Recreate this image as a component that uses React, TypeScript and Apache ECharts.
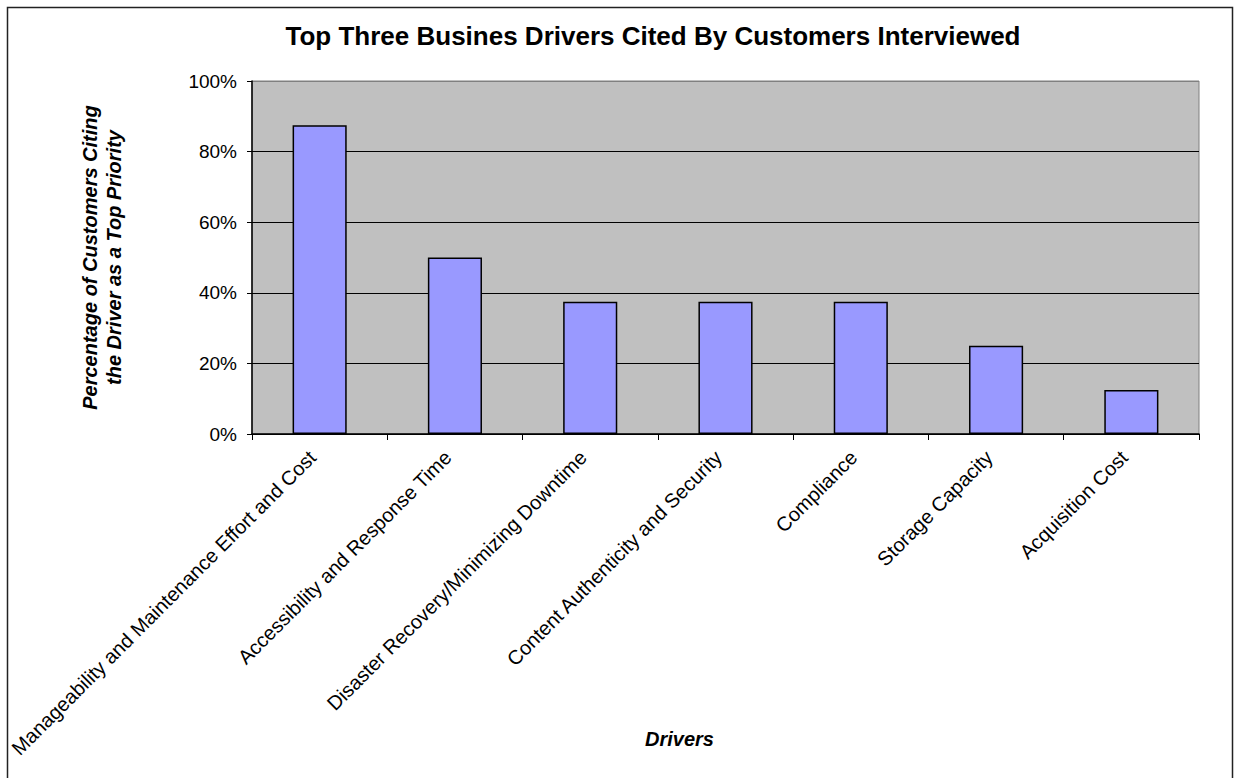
import React, { useEffect, useRef } from "react";
import * as echarts from "echarts";

const categories = [
  "Manageability and Maintenance Effort and Cost",
  "Accessibility and Response Time",
  "Disaster Recovery/Minimizing Downtime",
  "Content Authenticity and Security",
  "Compliance",
  "Storage Capacity",
  "Acquisition Cost",
];
const values = [0.875, 0.5, 0.375, 0.375, 0.375, 0.25, 0.125];
const yTicks = [0, 0.2, 0.4, 0.6, 0.8, 1.0];

const FONT = "'Liberation Sans', Arial, Helvetica, sans-serif";

export default function App() {
  const ref = useRef<HTMLDivElement>(null);
  useEffect(() => {
    if (!ref.current) return;
    const chart = echarts.init(ref.current, null, { renderer: "svg" });
    chart.setOption({
      animation: false,
      backgroundColor: "#ffffff",
      title: {
        text: "Top Three Busines Drivers Cited By Customers Interviewed",
        left: 648,
        textAlign: "center",
        top: 18,
        textStyle: { fontFamily: FONT, fontSize: 26, fontWeight: "bold", color: "#000" },
      },
      graphic: [
        {
          type: "rect",
          shape: { x: 7.5, y: 7.5, width: 1225, height: 800 },
          style: { fill: "none", stroke: "#222", lineWidth: 1.5 },
          silent: true,
        },
      ],
      grid: {
        left: 252,
        right: 37,
        top: 81,
        bottom: 344,
        show: true,
        backgroundColor: "#C0C0C0",
        borderColor: "#808080",
        borderWidth: 1,
      },
      xAxis: {
        type: "category",
        data: categories,
        name: "Drivers",
        nameLocation: "middle",
        nameGap: 295,
        nameMoveOverlap: false,
        nameTextStyle: {
          fontFamily: FONT,
          fontSize: 20,
          fontWeight: "bold",
          fontStyle: "italic",
          color: "#000",
          padding: [0, 92, 0, 0],
        },
        axisLine: { lineStyle: { color: "#000", width: 1.5 } },
        axisTick: { show: true, length: 6, alignWithLabel: false, lineStyle: { color: "#000" } },
        axisLabel: {
          interval: 0,
          rotate: 45,
          margin: 13,
          padding: [0, 10, 0, 0],
          fontFamily: FONT,
          fontSize: 20,
          color: "#000",
        },
      },
      yAxis: {
        type: "value",
        min: 0,
        max: 1,
        interval: 0.2,
        name: "Percentage of Customers Citing\nthe Driver as a Top Priority",
        nameLocation: "middle",
        nameGap: 126,
        nameMoveOverlap: false,
        nameTextStyle: {
          fontFamily: FONT,
          fontSize: 20,
          fontWeight: "bold",
          fontStyle: "italic",
          color: "#000",
          lineHeight: 24,
        },
        axisLine: { show: true, lineStyle: { color: "#000", width: 1.5 } },
        axisTick: { show: true, length: 5, lineStyle: { color: "#000" } },
        axisLabel: {
          margin: 15,
          fontFamily: FONT,
          fontSize: 19,
          color: "#000",
          formatter: (v: number) => {
            const t = yTicks.find((x) => Math.abs(x - v) < 1e-9);
            return Math.round((t ?? v) * 100) + "%";
          },
        },
        splitLine: { show: true, lineStyle: { color: ["#000", "#000", "#000", "#000", "#000", "#808080"], width: 1 } },
      },
      series: [
        {
          type: "bar",
          data: values,
          barCategoryGap: "60%",
          itemStyle: { color: "#9999FF", borderColor: "#000", borderWidth: 1.5 },
        },
      ],
    });
    return () => chart.dispose();
  }, []);
  return (
    <div
      ref={ref}
      style={{ position: "fixed", left: 0, top: 0, width: 1236, height: 778 }}
    />
  );
}
